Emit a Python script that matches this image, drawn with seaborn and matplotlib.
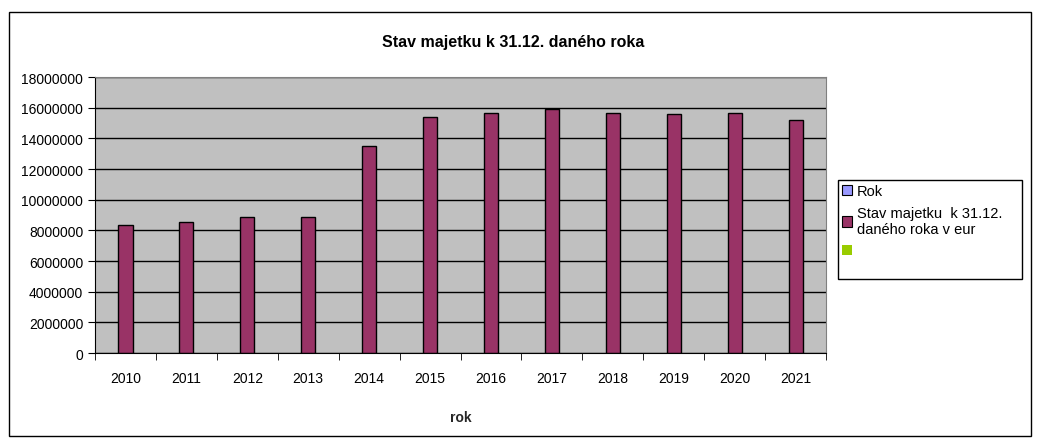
import matplotlib
matplotlib.use("Agg")
import matplotlib.pyplot as plt
import seaborn as sns
import pandas as pd
import numpy as np
from matplotlib.patches import Patch, Rectangle

# data
years = ["2010", "2011", "2012", "2013", "2014", "2015",
         "2016", "2017", "2018", "2019", "2020", "2021"]
values = [8330000, 8560000, 8890000, 8890000, 13470000, 15410000,
          15670000, 15910000, 15670000, 15580000, 15670000, 15170000]
y_ticks = list(range(0, 18000001, 2000000))
legend_labels = ["Rok", "Stav majetku  k 31.12.\ndaného roka v eur", ""]
legend_colors = ["#9999FF", "#993366", "#99CC00"]

df = pd.DataFrame({"rok": years, "stav": values})

sns.set_style("white")
plt.rcParams['font.family'] = ['Liberation Sans', 'DejaVu Sans']
plt.rcParams['text.color'] = 'black'
plt.rcParams['xtick.color'] = 'black'
plt.rcParams['ytick.color'] = 'black'

W, H = 1041, 439
fig = plt.figure(figsize=(W / 100, H / 100), dpi=100)
ax = fig.add_axes([0.0913, 0.1936, 0.7022, 0.6287])

sns.barplot(data=df, x="rok", y="stav", color="#993366", width=0.23,
            edgecolor="black", linewidth=1, saturation=1, ax=ax)

ax.set_facecolor("#C0C0C0")
ax.set_ylim(0, 18000000)
ax.set_xlim(-0.5, len(years) - 0.5)
ax.set_yticks(y_ticks)
ax.set_yticklabels([str(v) for v in y_ticks], fontsize=10)
ax.set_xticks(np.arange(-0.5, len(years)), minor=True)
ax.tick_params(axis="x", which="major", labelsize=10, length=0, pad=13)
ax.tick_params(axis="x", which="minor", length=5, direction="out",
               color="black", bottom=True)
ax.tick_params(axis="y", length=5, direction="out", color="black", left=True)
ax.yaxis.grid(True, color="black", linewidth=1)
ax.set_axisbelow(True)
for side in ["top", "right"]:
    ax.spines[side].set_color("#808080")
ax.spines["left"].set_color("black")
ax.spines["bottom"].set_color("black")

ax.set_xlabel("rok", fontsize=10, fontweight="bold", labelpad=18)
ax.set_ylabel("")
fig.text(0.4928, 0.903, "Stav majetku k 31.12. daného roka", ha="center",
         va="center", fontsize=11.5, fontweight="bold")

# legend entries, frame drawn separately to match the tall box
handles = [Patch(facecolor=legend_colors[0], edgecolor="black", linewidth=0.8),
           Patch(facecolor=legend_colors[1], edgecolor="black", linewidth=0.8),
           Patch(facecolor=legend_colors[2], edgecolor="none")]
leg = fig.legend(handles, legend_labels, loc="upper left",
                 bbox_to_anchor=(842 / W, 1 - 185 / H), fontsize=10.5,
                 frameon=False, handlelength=0.7, handleheight=0.7,
                 handletextpad=0.3, borderpad=0, labelspacing=0.55,
                 borderaxespad=0)
fig.patches.append(Rectangle((838 / W, 1 - 280 / H), 184 / W, 99 / H,
                             transform=fig.transFigure, fill=False,
                             edgecolor="black", linewidth=1))

# outer chart border
fig.patches.append(Rectangle((9 / W, 2 / H), 1022 / W, 424 / H,
                             transform=fig.transFigure, fill=False,
                             edgecolor="black", linewidth=1))

fig.savefig("out.png", dpi=100)
